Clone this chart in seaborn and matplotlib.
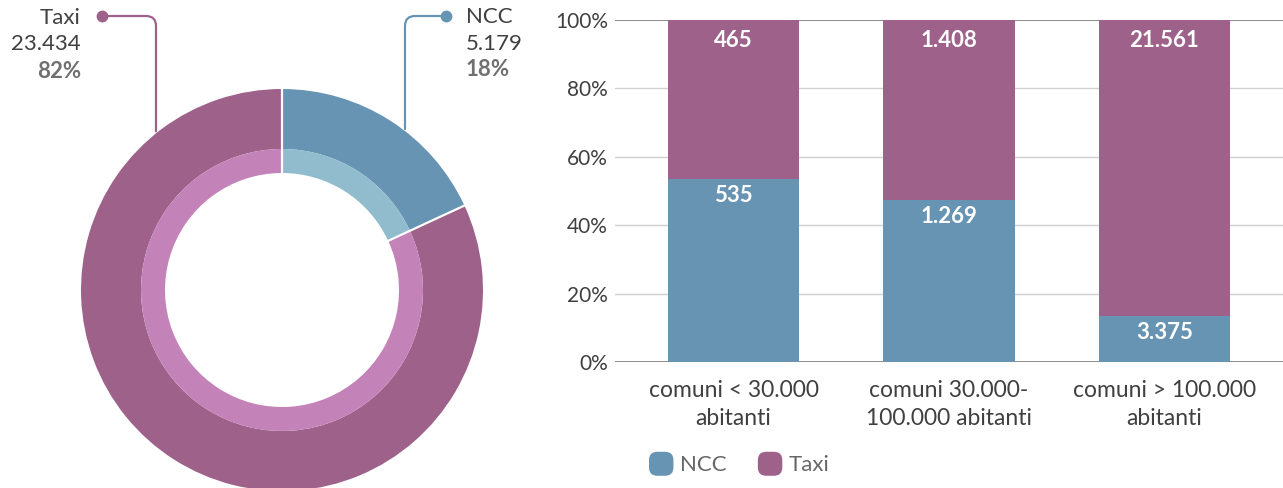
import numpy as np
import matplotlib
matplotlib.use("Agg")
import matplotlib.pyplot as plt
from matplotlib.patches import FancyBboxPatch
from matplotlib.legend_handler import HandlerPatch
import matplotlib.patches as mpatches
import seaborn as sns

# ---- data ----
services = ["NCC", "Taxi"]
service_totals = [5179, 23434]
categories = ["comuni < 30.000\nabitanti", "comuni 30.000-\n100.000 abitanti", "comuni > 100.000\nabitanti"]
ncc_counts = [535, 1269, 3375]
taxi_counts = [465, 1408, 21561]
y_ticks = [0, 20, 40, 60, 80, 100]

# ---- style ----
sns.set_theme(style="white")
plt.rcParams["font.family"] = ["Lato", "DejaVu Sans"]
TEXT = "#404040"
NCC_DARK, TAXI_DARK = "#6794b3", "#9e6189"
NCC_LIGHT, TAXI_LIGHT = "#91bccd", "#c382b8"

W, H = 1283, 488
fig = plt.figure(figsize=(W / 100, H / 100), dpi=100)
fig.patch.set_facecolor("white")


def fmt(v):
    return f"{v:,}".replace(",", ".")


# ---- donut (axes in pixel units) ----
axp = fig.add_axes([0, 0, 564 / W, 1])
cx, cy = 282, 198
R_out, R_mid, R_in = 201, 141, 117
shares = np.array(service_totals) / sum(service_totals)

axp.pie(service_totals, colors=[NCC_DARK, TAXI_DARK], startangle=90, counterclock=False,
        radius=R_out, center=(cx, cy), frame=True,
        wedgeprops=dict(width=R_out - R_mid, linewidth=0))
axp.pie(service_totals, colors=[NCC_LIGHT, TAXI_LIGHT], startangle=90, counterclock=False,
        radius=R_mid, center=(cx, cy), frame=True,
        wedgeprops=dict(width=R_mid - R_in, linewidth=0))
axp.set_xlim(0, 564)
axp.set_ylim(0, H)
axp.set_aspect("equal")
axp.axis("off")

# white separators between slices
bounds = 90 - 360 * np.concatenate([[0], np.cumsum(shares)[:-1]])
for a in np.deg2rad(bounds):
    axp.plot([cx + R_in * np.cos(a), cx + R_out * np.cos(a)],
             [cy + R_in * np.sin(a), cy + R_out * np.sin(a)], color="white", lw=1.6)

# leader lines and labels
leaders = [
    dict(dx=123, dot=(446, H - 16), ha="left", tx=466, y0=H - 17, color=NCC_DARK),
    dict(dx=-126, dot=(102, H - 16), ha="right", tx=81, y0=H - 18, color=TAXI_DARK),
]
for i, ld in enumerate(leaders):
    lx = cx + ld["dx"]
    ly = cy + np.sqrt(R_out ** 2 - ld["dx"] ** 2) + 2
    axp.annotate("", xy=(lx, ly), xytext=ld["dot"],
                 arrowprops=dict(arrowstyle="-", color=ld["color"], lw=1.6,
                                 shrinkA=0, shrinkB=0,
                                 connectionstyle="angle,angleA=0,angleB=90,rad=10"))
    axp.plot(*ld["dot"], "o", color=ld["color"], ms=7.5)
    y0 = ld["y0"]
    axp.text(ld["tx"], y0, services[i], ha=ld["ha"], va="center", fontsize=16, color=TEXT)
    axp.text(ld["tx"], y0 - 26.5, fmt(service_totals[i]), ha=ld["ha"], va="center",
             fontsize=16, color=TEXT)
    axp.text(ld["tx"], y0 - 53, f"{shares[i] * 100:.0f}%", ha=ld["ha"], va="center",
             fontsize=16, color="#707070", fontweight="bold")

# ---- 100% stacked bars ----
ax = fig.add_axes([615 / W, (H - 362) / H, (W - 615) / W, 342 / H])
totals = np.array(ncc_counts) + np.array(taxi_counts)
ncc_pct = np.array(ncc_counts) / totals * 100
taxi_pct = np.array(taxi_counts) / totals * 100

for t in y_ticks:
    ax.axhline(t, color="#8c8c8c" if t in (0, 100) else "#d0d0d0",
               lw=1.4 if t in (0, 100) else 1, zorder=0)

sns.barplot(x=categories, y=ncc_pct + taxi_pct, color=TAXI_DARK, width=0.61,
            saturation=1, linewidth=0, ax=ax, zorder=2)
sns.barplot(x=categories, y=ncc_pct, color=NCC_DARK, width=0.61,
            saturation=1, linewidth=0, ax=ax, zorder=3)

for i in range(len(categories)):
    ax.annotate(fmt(taxi_counts[i]), (i, ncc_pct[i] + taxi_pct[i]), xytext=(0, -15),
                textcoords="offset points", ha="center", va="center",
                color="white", fontsize=16, fontweight="bold", zorder=5)
    ax.annotate(fmt(ncc_counts[i]), (i, ncc_pct[i]), xytext=(0, -12),
                textcoords="offset points", ha="center", va="center",
                color="white", fontsize=16, fontweight="bold", zorder=5)

ax.set_xlim(-0.55, 2.55)
ax.set_ylim(0, 100)
ax.set_yticks(y_ticks)
ax.set_yticklabels([f"{t}%" for t in y_ticks])
ax.set_xticks(range(len(categories)))
ax.set_xticklabels(categories, linespacing=1.4)
ax.tick_params(axis="y", length=0, labelsize=15, labelcolor=TEXT, pad=5)
ax.tick_params(axis="x", length=0, labelsize=16.5, labelcolor=TEXT, pad=13)
for s in ax.spines.values():
    s.set_visible(False)
ax.set_xlabel("")
ax.set_ylabel("")


class RoundedHandler(HandlerPatch):
    def create_artists(self, legend, orig_handle, xdescent, ydescent, width, height,
                       fontsize, trans):
        p = FancyBboxPatch((-xdescent, -ydescent - 2), width, height + 4,
                           boxstyle="round,pad=0,rounding_size=6",
                           facecolor=orig_handle.get_facecolor(), edgecolor="none",
                           transform=trans)
        return [p]


handles = [mpatches.Patch(color=NCC_DARK, label="NCC"),
           mpatches.Patch(color=TAXI_DARK, label="Taxi")]
fig.legend(handles=handles, loc="center left", bbox_to_anchor=(629 / W, (H - 465) / H),
           ncol=2, frameon=False, fontsize=16, handlelength=1.1, handleheight=0.9,
           handletextpad=0.3, columnspacing=1.4, labelcolor="#666666",
           handler_map={mpatches.Patch: RoundedHandler()})

fig.savefig("out.png", dpi=100, facecolor="white")
